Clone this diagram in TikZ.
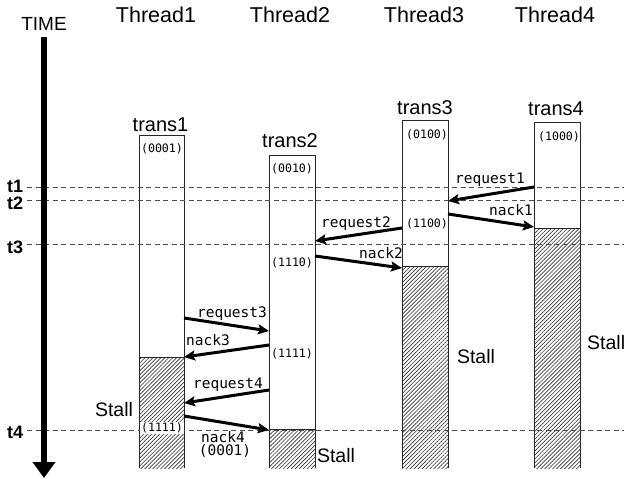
\documentclass[tikz,border=0pt]{standalone}
\usepackage{fontspec}
\setmainfont{Liberation Sans}
\newfontfamily\monof{DejaVu Sans Mono}
\usetikzlibrary{arrows.meta,patterns.meta}
\tikzset{
  lbl/.style={inner sep=0pt, anchor=base},
  thr/.style={lbl, font=\fontsize{21.5}{24}\selectfont},
  trn/.style={lbl, font=\fontsize{20}{24}\selectfont},
  stl/.style={lbl, font=\fontsize{19.5}{24}\selectfont},
  tlab/.style={inner sep=0pt, anchor=base west, font=\fontsize{18}{20}\selectfont\bfseries},
  code/.style={inner sep=0pt, font=\monof\fontsize{11.6}{13}\selectfont},
  msg/.style={lbl, font=\monof\fontsize{14.5}{16}\selectfont},
  bar/.style={draw=black!85, line width=0.9pt},
  hatch/.style={pattern={Lines[angle=45,distance=2.8pt,line width=0.65pt]}, pattern color=black!80},
  tline/.style={draw=black!70, line width=0.9pt, dash pattern=on 5pt off 3.5pt},
  sig/.style={line width=3pt, -{Stealth[length=11pt,width=10pt,inset=2pt]}},
}
\begin{document}
\begin{tikzpicture}[x=1pt,y=-1pt]
\useasboundingbox (0,0) rectangle (624,479);

% bars (white part, hatched part)
\foreach \xl/\xr/\yt/\yh in {139/184/135/357, 269/315/155/429, 402/448/120/266, 534/580/122/228}{
  \fill[white] (\xl,\yt) rectangle (\xr,468);
  \fill[hatch] (\xl,\yh) rectangle (\xr,468);
  \draw[bar] (\xl,468) -- (\xl,\yt) -- (\xr,\yt) -- (\xr,468);
  \draw[bar] (\xl,\yh) -- (\xr,\yh);
}

% time lines
\coordinate (d1) at (27,187);  \coordinate (e1) at (624,187);
\coordinate (d2) at (27,200);  \coordinate (e2) at (624,200);
\coordinate (d3) at (27,244);  \coordinate (e3) at (624,244);
\coordinate (d4) at (27,430);  \coordinate (e4) at (624,430);
\draw[tline] (d1) -- (e1);
\draw[tline] (d2) -- (e2);
\draw[tline] (d3) -- (e3);
\draw[tline] (d4) -- (e4);

% time axis
\node[lbl, font=\fontsize{19}{22}\selectfont] (time) at (44,30) {TIME};
\coordinate (ts) at (44,37);
\coordinate (te) at (44,478);
\draw[line width=6pt, -{Triangle[length=16pt,width=22pt]}] (ts) -- (te);

\node[tlab] (t1) at (7,192) {t1};
\node[tlab] (t2) at (7,209) {t2};
\node[tlab] (t3) at (7,253) {t3};
\node[tlab] (t4) at (7,438) {t4};

% thread titles
\node[thr] (th1) at (156,22) {Thread1};
\node[thr] (th2) at (290,22) {Thread2};
\node[thr] (th3) at (424,22) {Thread3};
\node[thr] (th4) at (555,22) {Thread4};

% transaction labels
\node[trn] (tr1) at (160.5,131) {trans1};
\node[trn] (tr2) at (290,147) {trans2};
\node[trn] (tr3) at (425,114) {trans3};
\node[trn] (tr4) at (556,115) {trans4};

% codes
\node[code] (c1) at (162,149) {(0001)};
\node[code] (c2) at (292,169) {(0010)};
\node[code] (c3) at (427,135) {(0100)};
\node[code] (c4) at (559,137) {(1000)};
\node[code] (c5) at (427,224) {(1100)};
\node[code] (c6) at (292,263) {(1110)};
\node[code] (c7) at (292,354) {(1111)};
\node[code, fill=white, inner sep=1pt] (c8) at (162,428) {(1111)};

% message endpoints
\coordinate (r1s) at (534,187); \coordinate (r1e) at (448,201);
\coordinate (n1s) at (448,214); \coordinate (n1e) at (534,227);
\coordinate (r2s) at (402,228); \coordinate (r2e) at (315,241);
\coordinate (n2s) at (315,256); \coordinate (n2e) at (402,268);
\coordinate (r3s) at (184,318); \coordinate (r3e) at (269,331);
\coordinate (n3s) at (269,345); \coordinate (n3e) at (184,357);
\coordinate (r4s) at (269,390); \coordinate (r4e) at (184,403);
\coordinate (n4s) at (184,416); \coordinate (n4e) at (269,430);

\draw[sig] (r1s) -- (r1e);
\draw[sig] (n1s) -- (n1e);
\draw[sig] (r2s) -- (r2e);
\draw[sig] (n2s) -- (n2e);
\draw[sig] (r3s) -- (r3e);
\draw[sig] (n3s) -- (n3e);
\draw[sig] (r4s) -- (r4e);
\draw[sig] (n4s) -- (n4e);

\node[msg] (m1) at (490,183) {request1};
\node[msg] (m2) at (511,215) {nack1};
\node[msg] (m3) at (356,227) {request2};
\node[msg] (m4) at (381,258) {nack2};
\node[msg] (m5) at (232,317) {request3};
\node[msg] (m6) at (208,345) {nack3};
\node[msg] (m7) at (228,388) {request4};
\node[msg] (m8) at (223,442) {nack4};
\node[msg] (m9) at (225,455) {(0001)};

% stall labels
\node[stl] (s1) at (114,416) {Stall};
\node[stl] (s2) at (336,462) {Stall};
\node[stl] (s3) at (476,363) {Stall};
\node[stl, anchor=base west] (s4) at (587,349) {Stall};
\end{tikzpicture}
\end{document}
